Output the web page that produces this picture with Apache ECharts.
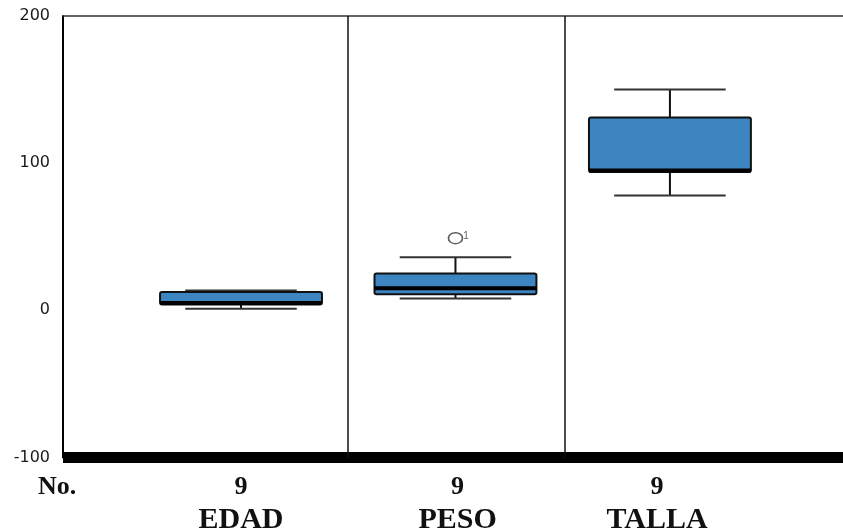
<!DOCTYPE html>
<html>
<head>
<meta charset="utf-8">
<script src="https://cdn.jsdelivr.net/npm/echarts@6/dist/echarts.min.js"></script>
<style>
html,body{margin:0;padding:0;background:#fff;}
#chart{width:843px;height:532px;}
</style>
</head>
<body>
<div id="chart"></div>
<script>
// ---- data ----
const categories = ['EDAD', 'PESO', 'TALLA'];
const counts = ['9', '9', '9'];
const countLabel = 'No.';
const lowWhisker = [1, 8, 78];
const q1Values = [4, 11, 94];
const medianValues = [5, 15, 95];
const q3Values = [12.5, 25, 131];
const highWhisker = [13.5, 36, 150];
const outliers = [[2, 49, '1']]; // [category position, value, case label]
const yTicks = [-100, 0, 100, 200];

// ---- layout (not data) ----
const labelShift = [0, 0.01, -0.06];

// ---- build ----
const boxData = categories.map((c, i) => [i + 1, lowWhisker[i], q1Values[i], medianValues[i], q3Values[i], highWhisker[i]]);
const labelPositions = categories.map((c, i) => i + 1 + labelShift[i]);

const chart = echarts.init(document.getElementById('chart'));
const serif = '"Liberation Serif", "Times New Roman", serif';

chart.setOption({
  animation: false,
  backgroundColor: '#fff',
  grid: { left: 63, right: 0, top: 16, bottom: 74.5, containLabel: false, outerBoundsMode: 'none' },
  graphic: [{
    type: 'text', left: 38, top: 474,
    style: { text: countLabel, font: 'bold 26px ' + serif, fill: '#111' }
  }],
  xAxis: {
    type: 'value', min: 0.17, max: 3.807,
    axisLine: { show: true, onZero: false, lineStyle: { color: '#000', width: 11, cap: 'butt' } },
    axisTick: { show: false },
    splitLine: { show: false },
    axisLabel: {
      customValues: labelPositions,
      margin: 14,
      formatter: function (v) {
        let i = 0, best = 1e9;
        labelPositions.forEach((p, k) => { if (Math.abs(p - v) < best) { best = Math.abs(p - v); i = k; } });
        return '{a|' + counts[i] + '}\n{b|' + categories[i] + '}';
      },
      rich: {
        a: { fontFamily: serif, fontWeight: 'bold', fontSize: 26, lineHeight: 32, color: '#111' },
        b: { fontFamily: serif, fontWeight: 'bold', fontSize: 30, lineHeight: 34, color: '#111' }
      }
    }
  },
  yAxis: {
    type: 'value', min: yTicks[0], max: yTicks[yTicks.length - 1], interval: 100,
    axisLine: { show: true, onZero: false, lineStyle: { color: '#000', width: 2 } },
    axisTick: { show: false },
    splitLine: { show: false },
    axisLabel: { fontFamily: '"DejaVu Sans", sans-serif', fontSize: 16, color: '#1a1a1a', margin: 13 }
  },
  series: [
    {
      type: 'custom',
      data: boxData,
      renderItem: function (params, api) {
        const x = api.value(0);
        const lo = api.coord([x, api.value(1)]);
        const q1 = api.coord([x, api.value(2)]);
        const med = api.coord([x, api.value(3)]);
        const q3 = api.coord([x, api.value(4)]);
        const hi = api.coord([x, api.value(5)]);
        const unit = api.size([1, 0])[0];
        const bw = unit * 0.755, ww = unit * 0.52;
        const cx = lo[0];
        const stemStyle = { stroke: '#111', lineWidth: 2 };
        const endStyle = { stroke: '#333', lineWidth: 2 };
        return {
          type: 'group',
          children: [
            { type: 'line', shape: { x1: cx, y1: hi[1], x2: cx, y2: q3[1] }, style: stemStyle },
            { type: 'line', shape: { x1: cx, y1: q1[1], x2: cx, y2: lo[1] }, style: stemStyle },
            { type: 'line', shape: { x1: cx - ww / 2, y1: hi[1], x2: cx + ww / 2, y2: hi[1] }, style: endStyle },
            { type: 'line', shape: { x1: cx - ww / 2, y1: lo[1], x2: cx + ww / 2, y2: lo[1] }, style: endStyle },
            { type: 'rect', shape: { x: cx - bw / 2, y: q3[1], width: bw, height: q1[1] - q3[1], r: 2 },
              style: { fill: '#3c85c0', stroke: '#111', lineWidth: 2 } },
            { type: 'line', shape: { x1: cx - bw / 2, y1: med[1], x2: cx + bw / 2, y2: med[1] },
              style: { stroke: '#000', lineWidth: 4 } }
          ]
        };
      },
      markLine: {
        silent: true, symbol: 'none', label: { show: false },
        data: [
          { yAxis: 200, lineStyle: { color: '#333', width: 1.5, type: 'solid' } },
          { xAxis: 1.5, lineStyle: { color: '#111', width: 1.5, type: 'solid' } },
          { xAxis: 2.51, lineStyle: { color: '#111', width: 1.5, type: 'solid' } }
        ]
      },
      z: 3
    },
    {
      type: 'scatter',
      data: outliers.map(o => [o[0], o[1], o[2]]),
      symbol: 'circle', symbolSize: [14, 11],
      itemStyle: { color: '#fff', borderColor: '#333', borderWidth: 1.5 },
      label: { show: true, position: 'right', distance: 0, offset: [0, -2],
        formatter: p => p.data[2], fontSize: 10, color: '#333', fontFamily: '"Liberation Sans", Arial, sans-serif' },
      z: 4
    }
  ]
});
</script>
</body>
</html>
